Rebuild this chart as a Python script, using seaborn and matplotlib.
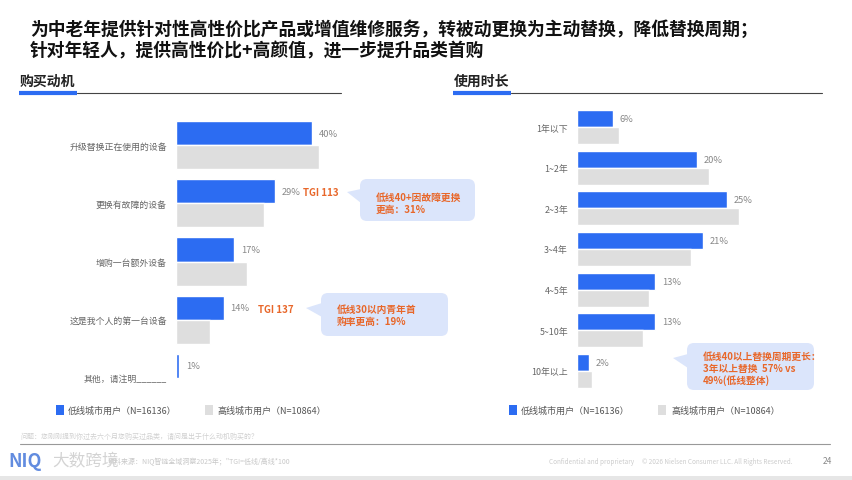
import pandas as pd
import numpy as np
import matplotlib.pyplot as plt
import seaborn as sns
from matplotlib.patches import FancyBboxPatch, Polygon, Rectangle

W, H = 852, 481
BLUE = "#2c6cf2"
GRAY = "#dedede"
ORANGE = "#e8672a"
BUBBLE = "#dbe5fb"

# data
groups = ["低线城市用户", "高线城市用户"]
legend_labels = ["低线城市用户（N=16136）", "高线城市用户（N=10864）"]

motive_cats = ["升级替换正在使用的设备", "更换有故障的设备", "增购一台额外设备",
               "这是我个人的第一台设备", "其他，请注明______"]
motive_low = [40, 29, 17, 14, 1]
motive_high = [42, 26, 21, 10, 0]

usage_cats = ["1年以下", "1~2年", "2~3年", "3~4年", "4~5年", "5~10年", "10年以上"]
usage_low = [6, 20, 25, 21, 13, 13, 2]
usage_high = [7, 22, 27, 19, 12, 11, 2.5]

sns.set_theme(style="white")
plt.rcParams["font.family"] = ["Noto Sans CJK SC", "DejaVu Sans"]

fig = plt.figure(figsize=(W / 100, H / 100), dpi=100)
fig.patch.set_facecolor("white")

# background overlay in pixel coordinates
bg = fig.add_axes([0, 0, 1, 1])
bg.set_xlim(0, W)
bg.set_ylim(H, 0)
bg.axis("off")


def px_axes(x0, y0, x1, y1):
    return fig.add_axes([x0 / W, 1 - y1 / H, (x1 - x0) / W, (y1 - y0) / H])


# title
bg.text(30, 30, "为中老年提供针对性高性价比产品或增值维修服务，转被动更换为主动替换，降低替换周期；",
        fontsize=12.8, fontweight="bold", color="#111111", va="center", ha="left")
bg.text(30, 51, "针对年轻人，提供高性价比+高颜值，进一步提升品类首购",
        fontsize=12.8, fontweight="bold", color="#111111", va="center", ha="left")

# section headers
for x0, x1, lab in [(19, 341, "购买动机"), (453, 822, "使用时长")]:
    bg.text(x0 + 1, 82, lab, fontsize=10, fontweight="bold", color="#222222", va="center")
    bg.plot([x0 + 58, x1], [94, 94], color="#444444", lw=0.8)
    bg.plot([x0, x0 + 58], [94, 94], color=BLUE, lw=3, solid_capstyle="butt")


def draw_chart(ax, cats, low, high, xmax, width, fs):
    df = pd.DataFrame({
        "cat": cats * 2,
        "val": low + high,
        "grp": [groups[0]] * len(cats) + [groups[1]] * len(cats),
    })
    sns.barplot(data=df, y="cat", x="val", hue="grp", hue_order=groups,
                palette=[BLUE, GRAY], saturation=1, width=width, dodge=True,
                orient="h", ax=ax, legend=False, errorbar=None)
    ax.set_xlim(0, xmax)
    ax.set_xlabel("")
    ax.set_ylabel("")
    ax.set_xticks([])
    for s in ax.spines.values():
        s.set_visible(False)
    ax.tick_params(axis="y", length=0, pad=6.5, labelsize=fs, labelcolor="#666666")
    ax.patch.set_alpha(0)
    ax.bar_label(ax.containers[0], labels=[f"{v}%" for v in low], padding=5,
                 fontsize=fs + 0.3, color="#888888")


ax1 = px_axes(176, 117, 448, 408)
draw_chart(ax1, motive_cats, motive_low, motive_high, 80, 0.83, 6.4)

ax2 = px_axes(577, 108, 817, 392)
draw_chart(ax2, usage_cats, usage_low, usage_high, 40, 0.84, 6.4)

# TGI notes
bg.text(303, 193, "TGI 113", fontsize=7, fontweight="bold", color=ORANGE, va="center")
bg.text(258, 310, "TGI 137", fontsize=7, fontweight="bold", color=ORANGE, va="center")


def bubble(x0, y0, x1, y1, tip, base_y, lines, ly):
    box = FancyBboxPatch((x0, y0), x1 - x0, y1 - y0,
                         boxstyle="round,pad=0,rounding_size=7",
                         fc=BUBBLE, ec="none", zorder=2)
    bg.add_patch(box)
    tri = Polygon([tip, (x0 + 1, base_y - 7), (x0 + 1, base_y + 7)],
                  closed=True, fc=BUBBLE, ec="none", zorder=2)
    bg.add_patch(tri)
    for t, y in zip(lines, ly):
        bg.text(x0 + 16, y, t, fontsize=7, fontweight="bold", color=ORANGE,
                va="center", zorder=3)


bubble(360, 180, 475, 222, (347, 193), 197, ["低线40+因故障更换", "更高：31%"], [198, 210])
bubble(321, 294, 448, 337, (306, 309), 311, ["低线30以内青年首", "购率更高：19%"], [310, 322])
bubble(687, 344, 814, 391, (673, 359), 362,
       ["低线40以上替换周期更长：", "3年以上替换  57% vs", "49%(低线整体)"], [357, 369, 381])

# legends
for sx, tx in [(56, 68), (509, 521)]:
    bg.add_patch(Rectangle((sx, 406), 8, 10, fc=BLUE, ec="none"))
    bg.text(tx, 411.5, legend_labels[0], fontsize=6.5, color="#555555", va="center")
for sx, tx in [(205, 218), (658, 672)]:
    bg.add_patch(Rectangle((sx, 406), 8, 10, fc=GRAY, ec="none"))
    bg.text(tx, 411.5, legend_labels[1], fontsize=6.5, color="#555555", va="center")

# footer
bg.text(20, 437, "问题：您刚刚提到你过去六个月您购买过品类，请问是出于什么动机购买的？",
        fontsize=5, color="#d0d0d0", va="center")
bg.plot([20, 830], [445, 445], color="#999999", lw=0.8)
bg.text(108, 462, "资料来源：NIQ智链全域洞察2025年；\"TGI=低线/高线*100",
        fontsize=5, color="#c8c8c8", va="center")
bg.text(549, 462, "Confidential and proprietary", fontsize=4.6, color="#cccccc", va="center")
bg.text(642, 462, "© 2026 Nielsen Consumer LLC. All Rights Reserved.", fontsize=4.6,
        color="#cccccc", va="center")
bg.text(823, 462, "24", fontsize=6, color="#888888", va="center")
bg.text(8, 462, "NIQ", fontsize=13, fontweight="bold", color="#3b6fd8", alpha=0.8, va="center")
bg.text(52, 462, "大数跨境", fontsize=12, color="#cfcfcf", alpha=0.9, va="center")
bg.add_patch(Rectangle((0, 477), W, 4, fc="#e6e6e6", ec="none"))

fig.savefig("out.png", dpi=100, facecolor="white")
